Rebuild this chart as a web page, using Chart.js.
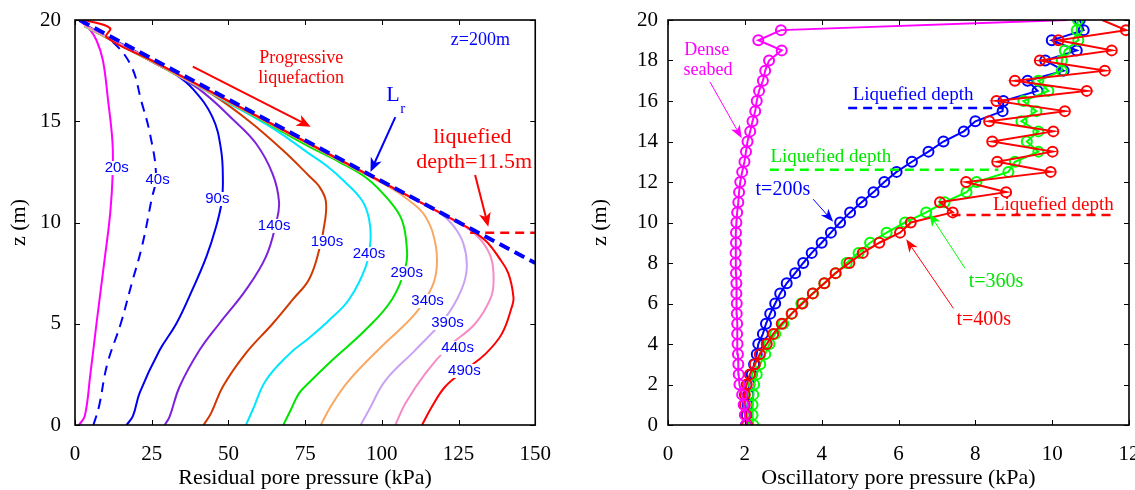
<!DOCTYPE html>
<html>
<head>
<meta charset="utf-8">
<script src="https://cdn.jsdelivr.net/npm/chart.js@4.4.0/dist/chart.umd.min.js"></script>
<style>
html, body { margin: 0; padding: 0; background: #fff; overflow: hidden; width: 1135px; height: 490px; }
canvas { position: absolute; top: 0; }
#left { left: 0; }
#right { left: 560px; }
</style>
</head>
<body>
<canvas id="left" width="560" height="490"></canvas>
<canvas id="right" width="590" height="490"></canvas>
<script>
const SERIF = "'Liberation Serif', 'Times New Roman', serif";
const SANS = "'Liberation Sans', Arial, sans-serif";

// ---- left panel: residual pore pressure (kPa) vs z (m) ----
const p20 = [1.3, 3.2, 5, 7, 9.5, 11.5, 12.3, 12.2, 10.8, 9.1, 7, 4.5, 2.5, 1.5];
const z20 = [0, 0.45, 2.5, 5, 8, 10.5, 12.5, 14, 16, 18, 19, 19.6, 19.85, 20];
const p40 = [6, 7.8, 10.5, 14.9, 18.5, 21.8, 24.9, 26.4, 24.4, 21.6, 18.4, 12.4, 5.4, 1.6];
const z40 = [0, 0.9, 3, 5, 7, 8.8, 11.1, 12.3, 14.4, 16, 17.7, 18.9, 19.55, 20];
const p90 = [16.8, 18.9, 21.1, 27.6, 33, 38.3, 42.8, 46, 47.8, 48.2, 47.6, 44.8, 38.4, 32, 25, 18, 10, 3];
const z90 = [0, 0.45, 1.6, 3.7, 5, 6.7, 8.3, 9.8, 11, 12, 13.6, 15.2, 16.6, 17.4, 18, 18.6, 19.2, 19.8];
const p140 = [29.2, 30.8, 34.1, 40.6, 47, 55.7, 62.2, 65.5, 66.5, 64.4, 59, 51.4, 42, 34, 25, 15, 4];
const z140 = [0, 0.4, 1.9, 3.7, 5, 6.67, 8.3, 9.95, 11, 12.4, 13.9, 15.1, 16.4, 17.2, 17.95, 18.75, 19.65];
const p190 = [41.9, 44.4, 48.2, 55.7, 64.4, 71, 76.3, 79.5, 81.5, 81.7, 79.5, 76.3, 67.5, 56.8, 45, 35, 20, 4];
const z190 = [0, 0.6, 1.9, 3.55, 5, 6.2, 7.2, 8.6, 10.1, 11.1, 11.8, 12.3, 13.6, 15, 16.3, 17.15, 18.35, 19.65];
const p240 = [55.7, 57.9, 62.2, 69.8, 76.3, 83, 89.3, 94.7, 96.3, 95.8, 93.5, 88, 82, 76.3, 65, 50, 30, 15, 3];
const z240 = [0, 0.74, 2.2, 3.5, 4.3, 5.2, 6.2, 7.8, 9.1, 10.2, 11.1, 12, 12.8, 13.4, 14.6, 15.9, 17.55, 18.75, 19.7];
const p290 = [67.9, 70.3, 73, 76.3, 83.8, 94.7, 103.3, 107.7, 108.2, 106.6, 102.3, 95, 86, 76.3, 65, 50, 30, 15, 3];
const z290 = [0, 0.74, 1.56, 2.1, 3.2, 4.7, 6.2, 7.8, 8.6, 10.1, 11.1, 12.2, 13, 13.75, 14.7, 15.95, 17.55, 18.75, 19.7];
const p340 = [80.1, 83.3, 89.3, 100.1, 110.9, 116.3, 117.9, 117.4, 114.2, 108.8, 103, 90, 70, 50, 30, 15, 3];
const z340 = [0, 0.9, 2.2, 3.9, 5.5, 6.8, 7.8, 9, 10.3, 11.1, 11.7, 12.75, 14.35, 15.95, 17.55, 18.75, 19.7];
const p390 = [93.1, 95.8, 101.2, 110.9, 120.7, 126, 127.7, 126.5, 123, 119.5, 115, 105, 85, 60, 35, 15, 3];
const z390 = [0, 0.74, 2.2, 3.7, 5.3, 6.7, 7.8, 9, 9.9, 10.4, 10.8, 11.6, 13.2, 15.2, 17.2, 18.8, 19.75];
const p440 = [104.4, 107.7, 114.2, 121.8, 130.4, 135.3, 136.4, 135.8, 133, 129, 124.5, 121, 105, 85, 60, 35, 15, 3];
const z440 = [0, 1.07, 2.55, 3.87, 5, 6.2, 7, 8.15, 9, 9.6, 10, 10.3, 11.6, 13.2, 15.2, 17.2, 18.8, 19.75];
const p490 = [113.1, 116.3, 120.7, 127, 133.7, 139.1, 142.3, 142.9, 141.2, 138, 134.5, 130.5, 127.5, 100, 75, 50, 25, 10.3, 11.4, 3.2];
const z490 = [0, 0.9, 1.9, 2.7, 3.5, 4.5, 5.8, 6.3, 7.5, 8.3, 9, 9.5, 9.8, 12, 14, 16, 18, 19.15, 19.6, 20];
const pLr = [1.5, 150];
const zLr = [20, 8];
const pLiqLeft = [128.8, 150];
const zLiqLeft = [9.5, 9.5];

// ---- right panel: oscillatory pore pressure (kPa) vs z (m) ----
const zGrid = [0, 0.5, 1, 1.5, 2, 2.5, 3, 3.5, 4, 4.5, 5, 5.5, 6, 6.5, 7, 7.5, 8, 8.5, 9, 9.5, 10,
  10.5, 11, 11.5, 12, 12.5, 13, 13.5, 14, 14.5, 15, 15.5, 16, 16.5, 17, 17.5, 18, 18.5, 19, 19.5, 20];
const oscDense = [2.03, 2.0, 1.97, 1.93, 1.86, 1.84, 1.83, 1.82, 1.81, 1.8, 1.8, 1.79, 1.79, 1.78, 1.78, 1.77, 1.76, 1.76, 1.77, 1.77, 1.78,
  1.8, 1.83, 1.85, 1.88, 1.93, 1.99, 2.03, 2.07, 2.14, 2.2, 2.27, 2.31, 2.37, 2.47, 2.53, 2.63, 2.96, 2.35, 2.94, 10.4];
const osc200 = [2.03, 2.05, 2.07, 2.09, 2.12, 2.18, 2.24, 2.31, 2.35, 2.47, 2.55, 2.66, 2.79, 2.92, 3.09, 3.31, 3.52, 3.74, 4.0, 4.24, 4.48,
  4.74, 5.04, 5.35, 5.63, 5.95, 6.35, 6.78, 7.17, 7.7, 8.0, 8.71, 8.73, 9.62, 9.36, 10.3, 9.82, 10.64, 9.99, 10.82, 10.72];
const osc360 = [2.22, 2.2, 2.2, 2.22, 2.24, 2.31, 2.4, 2.53, 2.64, 2.79, 3.0, 3.22, 3.47, 3.77, 4.07, 4.37, 4.65, 4.96, 5.26, 5.69, 6.17,
  6.72, 7.2, 7.77, 8.03, 8.86, 9.03, 9.64, 9.34, 9.64, 9.2, 9.59, 9.25, 9.9, 9.64, 10.25, 10.25, 10.33, 10.68, 10.64, 10.67];
const osc400 = [2.06, 2.03, 2.0, 2.0, 2.05, 2.13, 2.26, 2.39, 2.57, 2.74, 2.96, 3.22, 3.5, 3.77, 4.07, 4.36, 4.72, 5.07, 5.5, 6.04, 6.32,
  7.41, 7.08, 8.8, 7.76, 9.96, 8.57, 10.01, 8.44, 10.03, 8.36, 10.33, 8.55, 10.9, 9.03, 11.37, 9.68, 11.55, 10.16, 11.92, 11.3];
const liq200P = [4.69, 8.72], liq200Z = [15.65, 15.65];
const liq360P = [2.65, 8.6], liq360Z = [12.6, 12.6];
const liq400P = [7.38, 11.6], liq400Z = [10.37, 10.37];

function pts(xs, zs) { return xs.map((v, i) => ({ x: v, y: zs[i] })); }

function curve(xs, zs, color, extra) {
  return Object.assign({ data: pts(xs, zs), showLine: true, borderColor: color, borderWidth: 2,
    pointRadius: 0, tension: 0.4, fill: false }, extra || {});
}

function marked(xs, zs, color, hideTop) {
  return { data: pts(xs, zs), showLine: true, borderColor: color, borderWidth: 2, tension: 0,
    pointStyle: 'circle', pointRadius: zs.map(z => (hideTop && z >= 20) ? 0 : 5),
    pointBorderColor: color, pointBackgroundColor: 'rgba(0,0,0,0)', pointBorderWidth: 2 };
}

function dashed(xs, zs, color) {
  return { data: pts(xs, zs), showLine: true, borderColor: color, borderWidth: 2.5,
    borderDash: [9, 6], pointRadius: 0 };
}

function drawArrow(ctx, x0, y0, x1, y1, color, w, hl, hw) {
  const a = Math.atan2(y1 - y0, x1 - x0);
  const c = Math.cos(a), s = Math.sin(a);
  ctx.strokeStyle = color;
  ctx.fillStyle = color;
  ctx.lineWidth = w;
  ctx.beginPath();
  ctx.moveTo(x0, y0);
  ctx.lineTo(x1 - hl * 0.6 * c, y1 - hl * 0.6 * s);
  ctx.stroke();
  const bx = x1 - hl * c, by = y1 - hl * s;
  ctx.beginPath();
  ctx.moveTo(x1, y1);
  ctx.lineTo(bx - s * hw, by + c * hw);
  ctx.lineTo(x1 - hl * 0.72 * c, y1 - hl * 0.72 * s);
  ctx.lineTo(bx + s * hw, by - c * hw);
  ctx.closePath();
  ctx.fill();
}

// frame with inward ticks on all four sides, like the original figure
const framePlugin = {
  id: 'frame',
  afterDraw(chart) {
    const { ctx, chartArea: a, scales: { x, y } } = chart;
    ctx.save();
    ctx.strokeStyle = '#000';
    ctx.lineWidth = 1;
    ctx.beginPath();
    x.ticks.forEach(t => {
      const px = Math.round(x.getPixelForValue(t.value)) + 0.5;
      ctx.moveTo(px, a.bottom); ctx.lineTo(px, a.bottom - 5);
      ctx.moveTo(px, a.top); ctx.lineTo(px, a.top + 5);
    });
    y.ticks.forEach(t => {
      const py = Math.round(y.getPixelForValue(t.value)) + 0.5;
      ctx.moveTo(a.left, py); ctx.lineTo(a.left + 5, py);
      ctx.moveTo(a.right, py); ctx.lineTo(a.right - 5, py);
    });
    ctx.stroke();
    ctx.lineWidth = 1.6;
    ctx.strokeRect(a.left, a.top, a.right - a.left, a.bottom - a.top);
    ctx.restore();
  }
};

function notes(labels, arrows) {
  return {
    id: 'notes',
    afterDatasetsDraw(chart) {
      const { ctx, scales: { x, y } } = chart;
      ctx.save();
      arrows.forEach(r => drawArrow(ctx, x.getPixelForValue(r.from[0]), y.getPixelForValue(r.from[1]),
        x.getPixelForValue(r.to[0]), y.getPixelForValue(r.to[1]), r.color, r.w, r.hl, r.hw));
      ctx.textAlign = 'center';
      ctx.textBaseline = 'middle';
      labels.forEach(t => {
        const px = x.getPixelForValue(t.x), py = y.getPixelForValue(t.y);
        ctx.font = t.font;
        if (t.box) {
          const w = ctx.measureText(t.text).width;
          ctx.fillStyle = '#fff';
          ctx.fillRect(px - w / 2 - 1, py - 7, w + 2, 14);
        }
        ctx.fillStyle = t.color;
        ctx.fillText(t.text, px, py);
      });
      ctx.restore();
    }
  };
}

const leftLabels = [
  { text: '20s', x: 13.6, y: 12.69 }, { text: '40s', x: 26.9, y: 12.1 }, { text: '90s', x: 46.4, y: 11.16 },
  { text: '140s', x: 64.9, y: 9.83 }, { text: '190s', x: 82.1, y: 9.04 }, { text: '240s', x: 95.8, y: 8.44 },
  { text: '290s', x: 108.1, y: 7.5 }, { text: '340s', x: 114.9, y: 6.12 }, { text: '390s', x: 121.4, y: 5.04 },
  { text: '440s', x: 124.7, y: 3.8 }, { text: '490s', x: 126.9, y: 2.67 }
].map(t => Object.assign(t, { font: `15px ${SANS}`, color: '#0000ff', box: true })).concat([
  { text: 'Progressive', x: 73.7, y: 18.1, font: `18px ${SERIF}`, color: '#ff0000' },
  { text: 'liquefaction', x: 73.7, y: 17.1, font: `18px ${SERIF}`, color: '#ff0000' },
  { text: 'z=200m', x: 132.1, y: 19.01, font: `18px ${SERIF}`, color: '#0000ff' },
  { text: 'L', x: 103.6, y: 16.3, font: `22px ${SERIF}`, color: '#0000ff' },
  { text: 'r', x: 106.8, y: 15.6, font: `15px ${SERIF}`, color: '#0000ff' },
  { text: 'liquefied', x: 129.5, y: 14.22, font: `22px ${SERIF}`, color: '#ff0000' },
  { text: 'depth=11.5m', x: 130.1, y: 12.99, font: `22px ${SERIF}`, color: '#ff0000' }
]);
const leftArrows = [
  { from: [38.4, 17.7], to: [76.8, 14.73], color: '#ff0000', w: 2, hl: 14, hw: 6 },
  { from: [104.4, 15.2], to: [96.3, 12.5], color: '#0000ff', w: 2, hl: 14, hw: 6 },
  { from: [130.4, 12.35], to: [134.7, 9.79], color: '#ff0000', w: 2, hl: 14, hw: 6 }
];

const rightLabels = [
  { text: 'Dense', x: 1.01, y: 18.52, font: `18px ${SERIF}`, color: '#ff00ff' },
  { text: 'seabed', x: 1.04, y: 17.53, font: `18px ${SERIF}`, color: '#ff00ff' },
  { text: 'Liquefied depth', x: 6.38, y: 16.3, font: `19px ${SERIF}`, color: '#0000ff' },
  { text: 'Liquefied depth', x: 4.24, y: 13.23, font: `19px ${SERIF}`, color: '#00e600' },
  { text: 'Liquefied depth', x: 10.03, y: 10.86, font: `19px ${SERIF}`, color: '#ff0000' },
  { text: 't=200s', x: 2.99, y: 11.6, font: `20px ${SERIF}`, color: '#0000ff' },
  { text: 't=360s', x: 8.54, y: 7.06, font: `20px ${SERIF}`, color: '#00e600' },
  { text: 't=400s', x: 8.22, y: 5.19, font: `20px ${SERIF}`, color: '#ff0000' }
];
const rightArrows = [
  { from: [1.09, 16.95], to: [1.92, 14.16], color: '#ff00ff', w: 1, hl: 13, hw: 5 },
  { from: [3.78, 11.15], to: [4.3, 10.04], color: '#0000ff', w: 1, hl: 13, hw: 5 },
  { from: [7.73, 7.74], to: [6.8, 10.45], color: '#00ff00', w: 1, hl: 13, hw: 5 },
  { from: [7.43, 5.76], to: [6.2, 9.17], color: '#ff0000', w: 1, hl: 13, hw: 5 }
];

function axes(xMax, xStep, yStep, xTitle, yWidth, yPad) {
  const tickFont = { family: SERIF, size: 21 };
  const titleFont = { family: SERIF, size: 22, lineHeight: 1 };
  return {
    x: {
      type: 'linear', min: 0, max: xMax,
      ticks: { stepSize: xStep, font: tickFont, color: '#000', padding: 9 },
      grid: { display: false }, border: { display: false },
      title: { display: true, text: xTitle, font: titleFont, color: '#000', padding: { top: 0, bottom: 1 } },
      afterFit(s) { s.height = 65; }
    },
    y: {
      type: 'linear', min: 0, max: 20,
      ticks: { stepSize: yStep, font: tickFont, color: '#000', padding: yPad },
      grid: { display: false }, border: { display: false },
      title: { display: true, text: 'z (m)', font: titleFont, color: '#000', padding: { top: 8, bottom: 0 } },
      afterFit(s) { s.width = yWidth; }
    }
  };
}

new Chart(document.getElementById('left'), {
  type: 'scatter',
  data: {
    datasets: [
      curve(pLr, zLr, '#0000ff', { borderWidth: 4, borderDash: [11, 6], tension: 0 }),
      dashed(pLiqLeft, zLiqLeft, '#ff0000'),
      curve(p490, z490, '#ff0000'),
      curve(p440, z440, '#f48cc6'),
      curve(p390, z390, '#c9a3f2'),
      curve(p340, z340, '#f9a862'),
      curve(p290, z290, '#00e400'),
      curve(p240, z240, '#00e6ff'),
      curve(p190, z190, '#d23800'),
      curve(p140, z140, '#7d22dc'),
      curve(p90, z90, '#0000f0'),
      curve(p40, z40, '#0000ff', { borderDash: [10, 7] }),
      curve(p20, z20, '#ff00ff')
    ]
  },
  options: {
    responsive: false,
    animation: false,
    layout: { padding: { left: 0, right: 24, top: 20, bottom: 0 } },
    plugins: { legend: { display: false }, tooltip: { enabled: false } },
    scales: axes(150, 25, 5, 'Residual pore pressure (kPa)', 75, 6)
  },
  plugins: [framePlugin, notes(leftLabels, leftArrows)]
});

new Chart(document.getElementById('right'), {
  type: 'scatter',
  data: {
    datasets: [
      dashed(liq200P, liq200Z, '#0000ff'),
      dashed(liq360P, liq360Z, '#00ff00'),
      dashed(liq400P, liq400Z, '#ff0000'),
      marked(oscDense, zGrid, '#ff00ff', true),
      marked(osc400, zGrid, '#ff0000', true),
      marked(osc360, zGrid, '#00ff00', false),
      marked(osc200, zGrid, '#0000ff', false)
    ]
  },
  options: {
    responsive: false,
    animation: false,
    layout: { padding: { left: 21, right: 21, top: 20, bottom: 0 } },
    plugins: { legend: { display: false }, tooltip: { enabled: false } },
    scales: axes(12, 2, 2, 'Oscillatory pore pressure (kPa)', 87, 2)
  },
  plugins: [framePlugin, notes(rightLabels, rightArrows)]
});
</script>
</body>
</html>
